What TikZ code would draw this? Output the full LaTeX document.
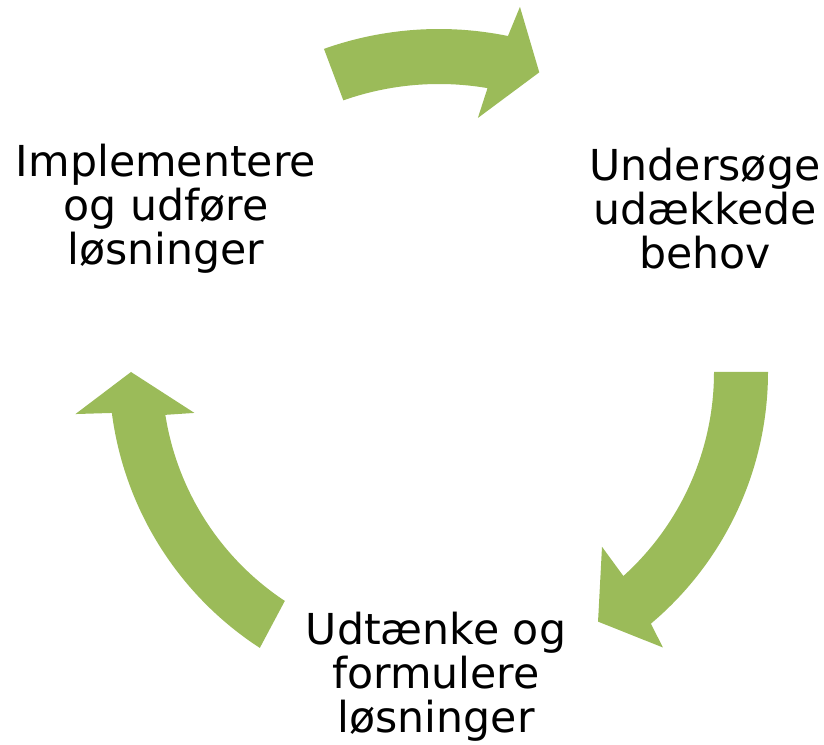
\documentclass[tikz,border=0pt]{standalone}
\usepackage{fontspec}
\setmainfont{DejaVu Sans}
\usetikzlibrary{calc}
\definecolor{arrowgreen}{HTML}{9BBB59}
\begin{document}
\begin{tikzpicture}[x=0.75pt,y=0.75pt,
  cyclearrow/.style={fill=arrowgreen,draw=none},
  steptext/.style={align=center,inner sep=0pt,font=\fontsize{32}{33}\selectfont}]
\useasboundingbox (0,0) rectangle (824,745);
\coordinate (c) at (439,373);
% top arrow (left to right)
\fill[cyclearrow] ($(c)+(109.6:343)$) arc[start angle=109.6,end angle=78.4,radius=343]
  -- ($(c)+(77.5:374)$) -- ($(c)+(71.5:316)$) -- ($(c)+(81.3:257)$) -- ($(c)+(80.3:288)$)
  arc[start angle=80.3,end angle=109.4,radius=288] -- cycle;
% right arrow (top to bottom)
\fill[cyclearrow] ($(c)+(0:329)$) arc[start angle=0,end angle=-49.9,radius=329]
  -- ($(c)+(-50.9:355)$) -- ($(c)+(-57.5:296)$) -- ($(c)+(-47:239)$) -- ($(c)+(-47.9:275)$)
  arc[start angle=-47.9,end angle=0,radius=275] -- cycle;
% left arrow (bottom to top)
\fill[cyclearrow] ($(c)+(237:329)$) arc[start angle=237,end angle=187.4,radius=331]
  -- ($(c)+(186.6:366)$) -- ($(c)+(180:308)$) -- ($(c)+(189.5:248)$) -- ($(c)+(188.9:277)$)
  arc[start angle=188.9,end angle=236.5,radius=274] -- cycle;
\node[steptext] (impl) at (166,536) {Implementere\\og udføre\\løsninger};
\node[steptext] (unders) at (705,536) {Undersøge\\udækkede\\behov};
\node[steptext] (udt) at (436,68) {Udtænke og\\formulere\\løsninger};
\end{tikzpicture}
\end{document}
